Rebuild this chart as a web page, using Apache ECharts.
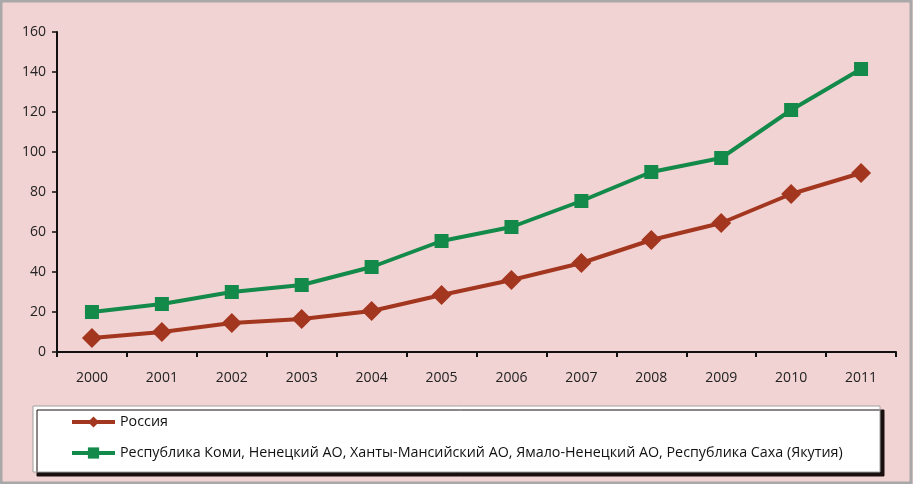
<!DOCTYPE html>
<html><head><meta charset="utf-8">
<script src="https://cdn.jsdelivr.net/npm/echarts@6/dist/echarts.min.js"></script>
<style>html,body{margin:0;padding:0;background:#F2D3D3;}#c{width:913px;height:484px;}</style>
</head><body><div id="c"></div>
<script>
const years = ['2000','2001','2002','2003','2004','2005','2006','2007','2008','2009','2010','2011'];
const russia = [7, 10, 14.5, 16.5, 20.5, 28.5, 36, 44.5, 56, 64.5, 79, 89.5];
const regions = [20, 24, 30, 33.5, 42.5, 55.5, 62.5, 75.5, 90, 97, 121, 141.5];
const nameRussia = 'Россия';
const nameRegions = 'Республика Коми, Ненецкий АО, Ханты-Мансийский АО, Ямало-Ненецкий АО, Республика Саха (Якутия)';
const yTicks = {min: 0, max: 160, interval: 20};

const chart = echarts.init(document.getElementById('c'));
const font = 'Open Sans';
chart.setOption({
  animation: false,
  backgroundColor: '#F2D3D3',
  textStyle: {fontFamily: font},
  graphic: [
    {type: 'rect', shape: {x: 1, y: 1, width: 910, height: 482}, style: {fill: 'none', stroke: '#a8a8a8', lineWidth: 3}, z: 100},
    {type: 'rect', shape: {x: 33, y: 406, width: 847, height: 66}, style: {fill: '#ffffff', stroke: '#a0a0a0', lineWidth: 1, shadowColor: '#1a1010', shadowOffsetX: 4, shadowOffsetY: 4, shadowBlur: 0}, z: 0}
  ],
  grid: {left: 57, top: 32, right: 17, bottom: 132},
  legend: {
    orient: 'vertical', left: 70, top: 415, padding: 0, itemWidth: 43, itemHeight: 14, itemGap: 17,
    textStyle: {fontSize: 14.3, color: '#111', fontFamily: font}, z: 5,
    lineStyle: {width: 4},
    data: [nameRussia, nameRegions]
  },
  xAxis: {
    type: 'category', data: years, boundaryGap: true,
    axisLine: {lineStyle: {color: '#111', width: 2}},
    axisTick: {show: true, length: 5, lineStyle: {color: '#111', width: 2}},
    axisLabel: {fontSize: 14, color: '#222', margin: 19}
  },
  yAxis: {
    type: 'value', min: yTicks.min, max: yTicks.max, interval: yTicks.interval,
    splitLine: {show: false},
    axisLine: {show: true, lineStyle: {color: '#111', width: 2}},
    axisTick: {show: true, length: 5, lineStyle: {color: '#111', width: 1.5}},
    axisLabel: {fontSize: 14, color: '#222', margin: 11}
  },
  series: [
    {name: nameRussia, type: 'line', data: russia, symbol: 'diamond', symbolSize: 20,
     lineStyle: {color: '#A3361F', width: 4}, itemStyle: {color: '#A3361F'}},
    {name: nameRegions, type: 'line', data: regions, symbol: 'rect', symbolSize: 14,
     lineStyle: {color: '#138A4A', width: 4}, itemStyle: {color: '#138A4A'}}
  ]
});
</script></body></html>
